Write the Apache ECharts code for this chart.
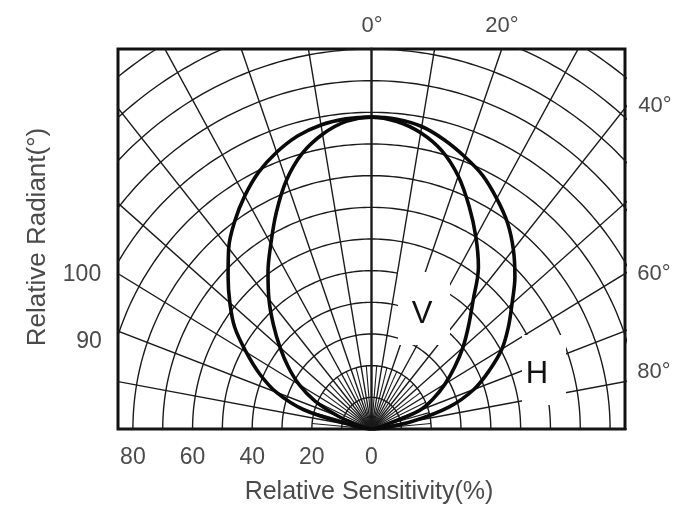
<!DOCTYPE html>
<html><head><meta charset="utf-8">
<script src="https://cdn.jsdelivr.net/npm/echarts@6/dist/echarts.min.js"></script>
<style>html,body{margin:0;padding:0;background:#fff;}#c{width:686px;height:507px;}</style>
</head><body><div id="c"></div>
<script>
// ---- data ----
const angles = [-90,-85,-80,-75,-70,-65,-60,-55,-50,-45,-40,-35,-30,-25,-20,-15,-10,-5,0,5,10,15,20,25,30,35,40,45,50,55,60,65,70,75,80,85,90];
const hRadiant = [0,2,7,23.5,34,41.5,48.5,56,62,68,74.5,80,85,89.5,93,95.8,97.5,98.3,98.5,98.2,97,94.5,91.5,88.3,84,79.5,74,68,61.5,56,50.5,43.5,36.5,27,14,4,0];
const vRadiant = [0,0.5,1.5,5,12,21,28,34,40,46.5,53.5,60.5,67.5,75.5,83.5,90,94.5,97.5,98.5,97.5,95,91,85,77.5,70,62.5,53,46,40,34,28.5,23,17,5,1.5,0.5,0];
const sensitivityTicks = [-80,-60,-40,-20,0];
const angleTickLabels = ['0°','20°','40°','60°','80°'];
const radiantTickLabels = ['100','90'];
const gridRadii = [10,20,30,40,50,60,70,80,90,100,110,120,130,140,150];
const gridSpokes = [-90,-80,-70,-60,-50,-40,-30,-20,-10,0,10,20,30,40,50,60,70,80,90];
const fineSpokes = [-85,-75,-65,-55,-45,-35,-25,-15,-5,5,15,25,35,45,55,65,75,85];

// ---- helpers ----
function toXY(r, deg){ const t = deg*Math.PI/180; return [r*Math.sin(t), r*Math.cos(t)]; }
const series = [];
function gridLine(pts, w){
  series.push({type:'line', data:pts, symbol:'none', silent:true, z:2, animation:false,
    lineStyle:{color:'#1a1a1a', width:w}});
}
gridRadii.forEach(r => { const p=[]; for(let a=-90;a<=90;a+=1) p.push(toXY(r,a)); gridLine(p,1.4); });
gridSpokes.forEach(a => gridLine([toXY(0,a), toXY(170,a)], a===0?2.4:1.4));
fineSpokes.forEach(a => gridLine([toXY(0,a), toXY(20,a)], 1.1));

function curve(name, radii){
  series.push({type:'line', name, data: angles.map((a,i)=>toXY(radii[i],a)), symbol:'none', smooth:0.35,
    z:6, animation:false, lineStyle:{color:'#0a0a0a', width:3.6}});
}
curve('H', hRadiant);
curve('V', vRadiant);

const FONT = '"Liberation Sans", Arial, sans-serif';
const TXT = '#4a4a4a';
const txt = (x,y,s,size,fill,extra) => Object.assign({type:'text', x, y, z:10,
  style:{text:s, fill:fill||TXT, font: size+'px '+FONT, textAlign:'center', textVerticalAlign:'middle'}}, extra||{});

const chart = echarts.init(document.getElementById('c'));
chart.setOption({
  animation:false,
  grid:{left:118, right:61, top:49, bottom:78, show:true, borderColor:'#111', borderWidth:3, backgroundColor:'transparent'},
  xAxis:{type:'value', min:-85, max:85, axisLine:{show:false}, axisTick:{show:false}, splitLine:{show:false},
    axisLabel:{customValues:sensitivityTicks, formatter:v=>String(Math.abs(v)), color:TXT, fontSize:23, margin:17,
      fontFamily:FONT}},
  yAxis:{type:'value', min:0, max:120, show:false},
  series,
  graphic:{elements:[
    {type:'rect', shape:{x:398,y:272,width:52,height:73}, style:{fill:'#fff'}, z:4},
    {type:'rect', shape:{x:522,y:335,width:44,height:70}, style:{fill:'#fff'}, z:4},
    txt(422,314,'V',31,'#111'),
    txt(537,374,'H',31,'#111'),
    txt(372,26,angleTickLabels[0],22),
    txt(502,26,angleTickLabels[1],22),
    txt(655,106,angleTickLabels[2],22),
    txt(654,274,angleTickLabels[3],22),
    txt(654,372,angleTickLabels[4],22),
    txt(82,275,radiantTickLabels[0],23),
    txt(89,342,radiantTickLabels[1],23),
    txt(38,237,'Relative Radiant(°)',26,TXT,{rotation:Math.PI/2}),
    txt(369,492,'Relative Sensitivity(%)',25)
  ]}
});
</script></body></html>
